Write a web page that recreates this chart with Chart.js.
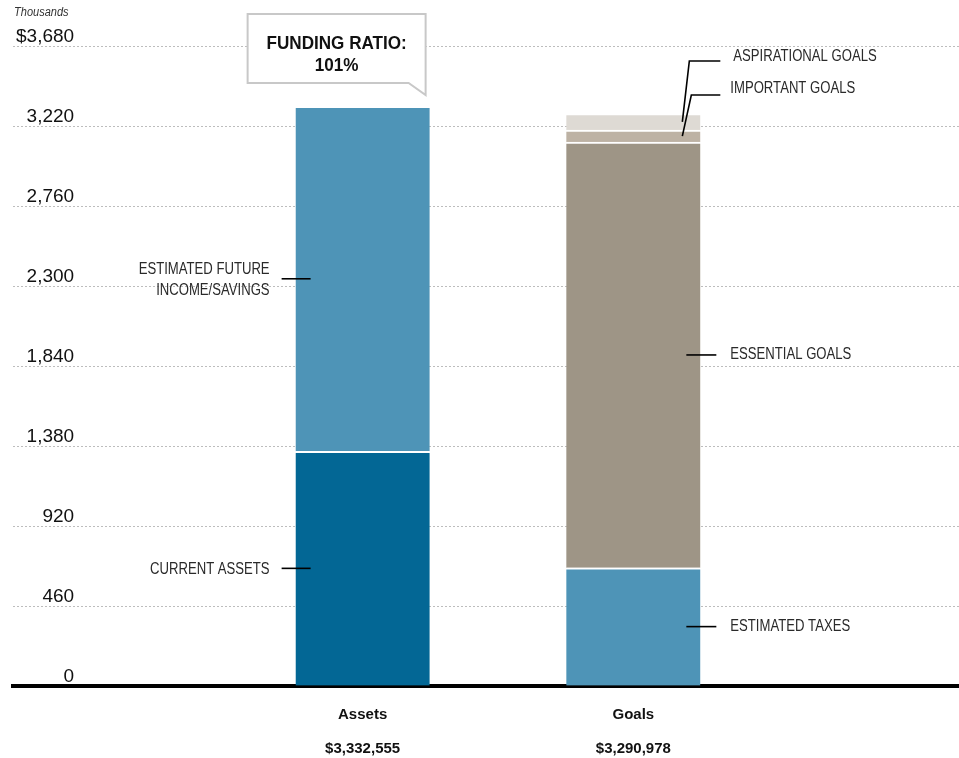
<!DOCTYPE html>
<html>
<head>
<meta charset="utf-8">
<script src="https://cdn.jsdelivr.net/npm/chart.js@4.4.1/dist/chart.umd.min.js"></script>
<style>
  html, body { margin: 0; padding: 0; background: #fff; overflow: hidden; }
  #wrap { position: relative; width: 959px; height: 778px; }
</style>
</head>
<body>
<div id="wrap"><canvas id="c"></canvas></div>
<script>
// ---- data (thousands of dollars) ----
const categories = ['Assets', 'Goals'];
const categoryTotals = ['$3,332,555', '$3,290,978'];
const assetSegments = ['CURRENT ASSETS', 'ESTIMATED FUTURE INCOME/SAVINGS'];
const assetValues = [1350, 1983];
const goalSegments = ['ESTIMATED TAXES', 'ESSENTIAL GOALS', 'IMPORTANT GOALS', 'ASPIRATIONAL GOALS'];
const goalValues = [680, 2447, 69, 95];
const yTickValues = [0, 460, 920, 1380, 1840, 2300, 2760, 3220, 3680];
const fundingRatio = '101%';

// ---- styles ----
const assetColors = ['#036795', '#4e94b7'];
const goalColors = ['#4e94b7', '#9e9586', '#bdb2a4', '#dedad4'];
const FONT = '"Liberation Sans", Arial, sans-serif';

const datasets = [];
assetSegments.forEach((name, i) => datasets.push({
  label: name, data: [{ x: 1, y: assetValues[i] }],
  backgroundColor: assetColors[i], group: 'assets'
}));
goalSegments.forEach((name, i) => datasets.push({
  label: name, data: [{ x: 2, y: goalValues[i] }],
  backgroundColor: goalColors[i], group: 'goals'
}));
datasets.forEach(d => {
  d.borderColor = '#ffffff';
  d.borderWidth = { top: 2, right: 0, bottom: 0, left: 0 };
  d.borderSkipped = false;
  d.barThickness = 134;
});

function condensedText(ctx, text, x, y, align, sx) {
  ctx.save();
  ctx.translate(x, y);
  ctx.scale(sx, 1);
  ctx.textAlign = align;
  ctx.fillText(text, 0, 0);
  ctx.restore();
}

const annotate = {
  id: 'annotate',
  afterDatasetsDraw(chart) {
    const ctx = chart.ctx;
    ctx.save();
    ctx.textBaseline = 'middle';
    // "Thousands"
    ctx.fillStyle = '#333';
    ctx.font = 'italic 12px ' + FONT;
    condensedText(ctx, 'Thousands', 14, 13, 'left', 0.92);

    ctx.strokeStyle = '#000';
    ctx.lineWidth = 1.6;
    ctx.fillStyle = '#2a2a2a';
    ctx.font = '16px ' + FONT;
    const SX = 0.82;
    chart.data.datasets.forEach((ds, di) => {
      const bar = chart.getDatasetMeta(di).data[0];
      if (!bar) return;
      const mid = (bar.y + bar.base) / 2;
      const left = bar.x - bar.width / 2;
      const right = bar.x + bar.width / 2;
      if (ds.group === 'assets') {
        ctx.beginPath();
        ctx.moveTo(left - 14, mid); ctx.lineTo(left + 15, mid); ctx.stroke();
        const words = ds.label === 'ESTIMATED FUTURE INCOME/SAVINGS'
          ? ['ESTIMATED FUTURE', 'INCOME/SAVINGS'] : [ds.label];
        const lh = 21;
        words.forEach((w, k) => {
          condensedText(ctx, w, left - 26, mid + 1 + (k - (words.length - 1) / 2) * lh, 'right', SX);
        });
      } else {
        if (ds.label === 'IMPORTANT GOALS' || ds.label === 'ASPIRATIONAL GOALS') {
          const asp = ds.label === 'ASPIRATIONAL GOALS';
          const ly = asp ? 61 : 95;
          const ty = asp ? 57 : 89;
          const tx = asp ? right + 33 : right + 30;
          const cx = asp ? right - 11 : right - 9;
          ctx.beginPath();
          ctx.moveTo(right - 18, mid);
          ctx.lineTo(cx, ly);
          ctx.lineTo(right + 20, ly);
          ctx.stroke();
          condensedText(ctx, ds.label, tx, ty, 'left', SX);
        } else {
          ctx.beginPath();
          ctx.moveTo(right - 14, mid); ctx.lineTo(right + 16, mid); ctx.stroke();
          condensedText(ctx, ds.label, right + 30, mid, 'left', SX);
        }
      }
    });

    // Funding ratio callout anchored to Assets bar
    const ab = chart.getDatasetMeta(0).data[0];
    const bx0 = ab.x - 115, bx1 = ab.x + 63, by0 = 14, by1 = 83, tipY = 95;
    ctx.beginPath();
    ctx.moveTo(bx0, by0); ctx.lineTo(bx1, by0); ctx.lineTo(bx1, tipY);
    ctx.lineTo(bx1 - 17, by1); ctx.lineTo(bx0, by1); ctx.closePath();
    ctx.fillStyle = '#fff'; ctx.fill();
    ctx.strokeStyle = '#c8c8c8'; ctx.lineWidth = 2; ctx.stroke();
    ctx.fillStyle = '#111';
    ctx.font = 'bold 19px ' + FONT;
    condensedText(ctx, 'FUNDING RATIO:', (bx0 + bx1) / 2, 44, 'center', 0.9);
    condensedText(ctx, fundingRatio, (bx0 + bx1) / 2, 66, 'center', 0.9);
    ctx.restore();
  }
};

new Chart(document.getElementById('c'), {
  type: 'bar',
  data: { datasets },
  plugins: [annotate],
  options: {
    responsive: true,
    maintainAspectRatio: false,
    animation: false,
    layout: { padding: { top: 46, left: 7, right: 0, bottom: 0 } },
    plugins: { legend: { display: false }, tooltip: { enabled: false } },
    scales: {
      x: {
        type: 'linear', stacked: true, offset: false,
        min: -0.2915, max: 3.203,
        afterBuildTicks: s => { s.ticks = categories.map((c, i) => ({ value: i + 1 })); },
        grid: { display: false, drawTicks: false },
        border: { display: true, color: '#000', width: 4 },
        ticks: {
          autoSkip: false, maxRotation: 0, padding: 12, color: '#111',
          font: { family: FONT, size: 15, weight: 'bold', lineHeight: '34px' },
          callback: v => [categories[v - 1], categoryTotals[v - 1]]
        }
      },
      y: {
        stacked: true, min: 0, max: 3680,
        afterBuildTicks: s => { s.ticks = yTickValues.map(v => ({ value: v })); },
        grid: {
          drawTicks: false,
          color: ctx => ctx.tick && ctx.tick.value === 0 ? 'rgba(0,0,0,0)' : '#bdbdbd',
          lineWidth: 1,
          tickBorderDash: [2, 2]
        },
        border: { display: false, dash: [2, 2] },
        ticks: {
          mirror: true, crossAlign: 'far', padding: 3, labelOffset: -9,
          color: '#111',
          font: { family: FONT, size: 19 },
          callback: v => (v === 3680 ? '$' : '') + v.toLocaleString('en-US')
        }
      }
    }
  }
});
</script>
</body>
</html>
